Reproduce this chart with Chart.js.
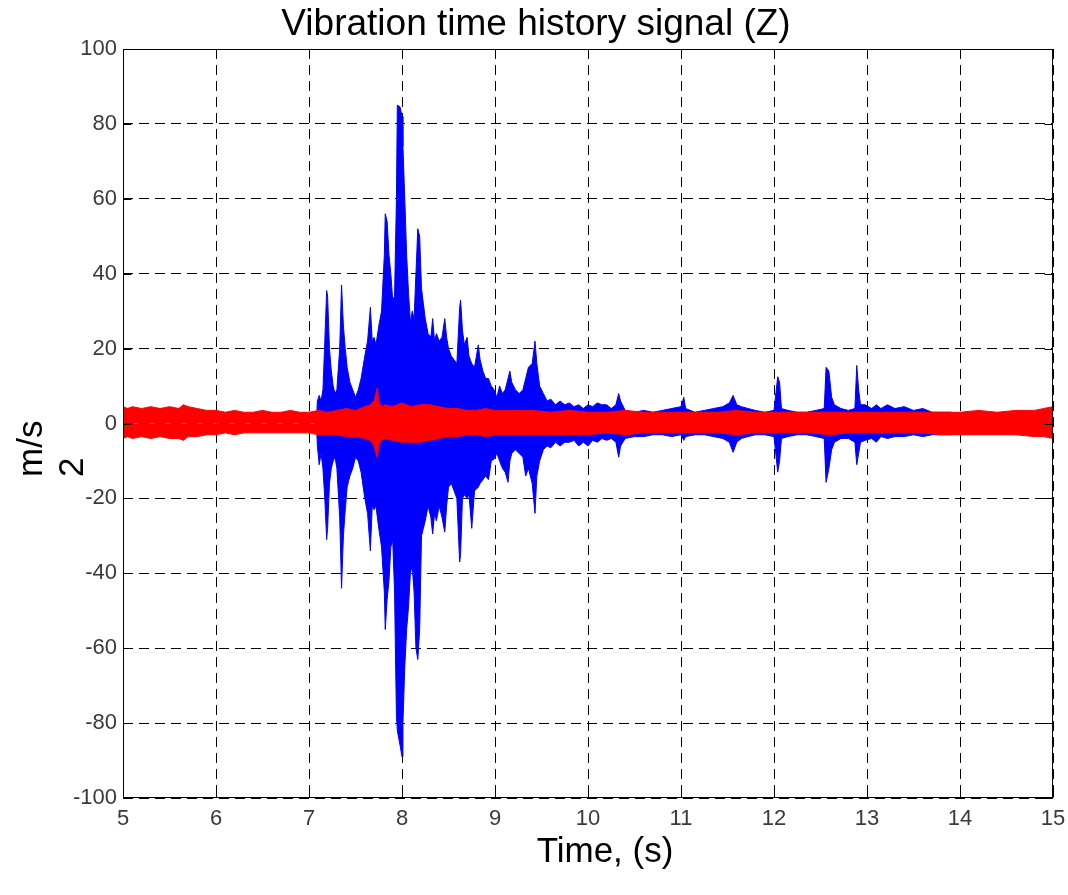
<!DOCTYPE html>
<html>
<head>
<meta charset="utf-8">
<title>Vibration time history signal (Z)</title>
<script src="https://cdn.jsdelivr.net/npm/chart.js@4.4.0/dist/chart.umd.min.js"></script>
<style>
  html, body { margin: 0; padding: 0; background: #fff; }
  canvas { display: block; }
</style>
</head>
<body>
<canvas id="vib-chart" width="1068" height="895"></canvas>
<script>
// axis ticks
const xTicks = [5, 6, 7, 8, 9, 10, 11, 12, 13, 14, 15];
const yTicks = [-100, -80, -60, -40, -20, 0, 20, 40, 60, 80, 100];

const blueTime = [
  7.08, 7.09, 7.11, 7.13, 7.15, 7.17, 7.19, 7.20, 7.22, 7.24,
  7.26, 7.28, 7.30, 7.33, 7.35, 7.37, 7.39, 7.41, 7.44, 7.47,
  7.50, 7.53, 7.56, 7.60, 7.63, 7.66, 7.68, 7.70, 7.72, 7.75,
  7.78, 7.81, 7.82, 7.84, 7.86, 7.88, 7.90, 7.92, 7.94, 7.95,
  7.98, 8.00, 8.01, 8.03, 8.05, 8.07, 8.09, 8.11, 8.13, 8.15,
  8.17, 8.19, 8.21, 8.23, 8.25, 8.28, 8.31, 8.33, 8.35, 8.37,
  8.40, 8.43, 8.46, 8.48, 8.50, 8.53, 8.56, 8.59, 8.62, 8.63,
  8.65, 8.67, 8.70, 8.72, 8.75, 8.78, 8.82, 8.84, 8.87, 8.90,
  8.93, 8.96, 8.99, 9.02, 9.05, 9.08, 9.11, 9.14, 9.16, 9.18,
  9.22, 9.26, 9.30, 9.33, 9.36, 9.40, 9.43, 9.45, 9.48, 9.52,
  9.56, 9.60, 9.65, 9.70, 9.75, 9.80, 9.85, 9.90, 9.95, 10.00,
  10.05, 10.10, 10.15, 10.20, 10.25, 10.30, 10.33, 10.35, 10.40, 10.50,
  10.60, 10.70, 10.80, 10.90, 11.00, 11.03, 11.05, 11.15, 11.25, 11.35,
  11.45, 11.52, 11.56, 11.60, 11.65, 11.72, 11.80, 11.90, 12.00, 12.04,
  12.06, 12.08, 12.15, 12.25, 12.35, 12.45, 12.54, 12.56, 12.59, 12.62,
  12.65, 12.72, 12.80, 12.87, 12.89, 12.91, 12.93, 12.98, 13.05, 13.10,
  13.15, 13.22, 13.30, 13.40, 13.50, 13.60, 13.70, 13.80, 13.90, 14.00,
  15.00
];
const blueUpper = [
  0, 6, 7.5, 6, 9, 22, 35.5, 34, 20, 14,
  10, 8, 9, 20, 37, 26, 20, 15, 11, 9,
  7, 9, 12, 18, 22, 31, 22, 23, 21, 26,
  30, 45, 56, 54, 45, 40, 33, 34, 60, 85,
  84.5, 82, 74, 60, 45, 35, 27, 30, 28, 40,
  52, 50, 36, 32, 28, 24, 23, 28, 22, 24,
  22, 23, 28, 23, 20, 18, 17, 16, 31, 33,
  25, 21, 23, 18, 16, 15, 21, 17, 14, 12,
  12, 10, 9, 7, 10, 8, 9, 12, 14, 11,
  9, 8, 9, 12, 15, 16, 22, 16, 10, 8,
  6, 6.5, 5, 6, 5, 5.5, 4.5, 5, 4, 5,
  4.5, 5.5, 5, 5, 4, 5, 8, 6, 3.5, 3,
  3.5, 3, 3.5, 4, 4.5, 7, 4, 3, 3.5, 4,
  4.5, 5.5, 7.5, 5, 4.5, 4, 3.5, 3, 3.5, 12.5,
  11, 4, 3.5, 3, 3, 3.5, 4, 15, 14, 7,
  5, 4, 3.5, 4, 15.5, 9, 5, 5, 4, 5,
  4, 5, 4, 4.5, 3.5, 4, 3, 3, 3, 2.5,
  2.5
];
const blueLower = [
  0, -6, -11, -8, -12, -20, -31, -28, -16, -12,
  -10, -9, -12, -25, -44, -30, -23, -17, -14, -12,
  -9, -10, -13, -20, -24, -34, -22, -23, -22, -28,
  -33, -45, -55, -47, -42, -33, -31, -45, -78, -82,
  -86, -89, -80, -65, -55, -49, -40, -38, -45, -60,
  -63, -55, -30, -28, -26, -22, -25, -29.5, -24, -26,
  -22, -25, -29, -22, -17, -16, -18, -20, -37, -35,
  -20, -19, -20, -19, -28, -18, -17, -16, -15, -14,
  -15, -10, -9.5, -8, -10, -12, -13, -15.7, -10, -8,
  -7, -8, -9, -14, -12, -16, -24, -14, -10, -7,
  -6, -6.5, -5, -6, -5, -5, -4.5, -6, -5, -6,
  -4.5, -5, -4, -4.5, -4, -5, -9, -6, -4, -3.5,
  -3.5, -3, -3, -3.5, -3, -4.5, -3.5, -3, -3, -3.5,
  -4, -5, -7.7, -5, -4, -3.5, -3, -3, -3.5, -13,
  -10, -4, -3.5, -3, -3, -3.5, -4, -15.7, -12, -7,
  -5, -4, -4, -5, -11, -8, -5, -4.5, -4, -5,
  -3.5, -4, -3.5, -3.5, -3, -3.5, -3, -3, -3, -2.5,
  -2.5
];

// red trace envelope
const redTime = [
  5.00, 5.05, 5.10, 5.20, 5.30, 5.40, 5.50, 5.60, 5.65, 5.70,
  5.80, 5.90, 6.00, 6.10, 6.20, 6.30, 6.40, 6.50, 6.60, 6.70,
  6.80, 6.90, 7.00, 7.10, 7.20, 7.30, 7.40, 7.50, 7.60, 7.66,
  7.70, 7.72, 7.735, 7.75, 7.78, 7.82, 7.90, 8.00, 8.10, 8.20,
  8.30, 8.40, 8.50, 8.60, 8.70, 8.80, 8.90, 9.00, 9.20, 9.40,
  9.60, 9.80, 10.00, 10.20, 10.40, 10.60, 10.80, 11.00, 11.20, 11.40,
  11.60, 11.80, 12.00, 12.20, 12.40, 12.60, 12.80, 13.00, 13.20, 13.40,
  13.60, 13.80, 14.00, 14.20, 14.40, 14.60, 14.80, 14.90, 15.00
];
const redUpper = [
  4.5, 4, 4.5, 4, 4.5, 4, 4.5, 4, 5, 4.5,
  4, 3.5, 3.5, 3, 3.5, 3, 3, 3.5, 3, 3,
  3.5, 3, 3, 3.5, 3, 3.5, 4, 3.5, 4.5, 5,
  6, 8, 9.5, 6, 4.5, 5, 4.5, 5.5, 4.5, 5,
  5, 4.5, 4, 4, 3.5, 3.5, 4, 3.5, 3.5, 3.5,
  3, 3.5, 3, 3, 3.5, 3, 3, 3, 3, 3,
  3.5, 3, 3, 3, 3, 3, 3, 3, 3, 3,
  3, 3, 3, 3.5, 3, 3.5, 3.5, 4, 4.5
];
const redLower = [
  -4, -3.5, -4, -3.5, -4, -3.5, -4, -4, -4.5, -3.5,
  -3.5, -3, -3, -2.5, -3, -2.5, -2.5, -2.5, -2.5, -2.5,
  -2.5, -2.5, -2.5, -3, -3, -3, -3.5, -3.5, -4, -4.5,
  -6, -8, -9, -6, -4.5, -4, -4.5, -5, -5, -5,
  -4.5, -4, -3.5, -3.5, -3, -3, -3.5, -3, -3, -3,
  -3, -3, -3, -2.5, -3, -2.5, -2.5, -2.5, -2.5, -2.5,
  -3, -2.5, -2.5, -2.5, -2.5, -3, -2.5, -2.5, -2.5, -2.5,
  -2.5, -3, -3, -3, -3, -3, -3.5, -3.5, -4
];

const FONT = '"Liberation Sans", Arial, sans-serif';

const toPoints = (times, values) => times.map((t, i) => ({ x: t, y: values[i] }));

const trace = (label, times, values, colour, order) => ({
    label,
    data: toPoints(times, values),
    borderColor: colour,
    backgroundColor: colour,
    borderWidth: 1,
    pointRadius: 0,
    tension: 0,
    fill: 'origin',
    order
});

// box round the plot, inward ticks, title and axis labels
const frameAndLabels = {
    id: 'frameAndLabels',
    afterDraw(chart) {
        const { ctx, chartArea: a, scales: { x, y } } = chart;
        const left = Math.round(a.left) + 0.5;
        const right = Math.round(a.right) - 0.5;
        const top = Math.round(a.top) + 0.5;
        const bottom = Math.round(a.bottom) - 0.5;
        ctx.save();
        ctx.strokeStyle = '#000';
        ctx.lineWidth = 1;
        ctx.setLineDash([]);
        ctx.strokeRect(left, top, right - left, bottom - top);

        ctx.beginPath();
        xTicks.forEach(v => {
            const px = Math.round(x.getPixelForValue(v)) + 0.5;
            ctx.moveTo(px, bottom); ctx.lineTo(px, bottom - 8);
            ctx.moveTo(px, top); ctx.lineTo(px, top + 8);
        });
        yTicks.forEach(v => {
            const py = Math.round(y.getPixelForValue(v)) + 0.5;
            ctx.moveTo(left, py); ctx.lineTo(left + 8, py);
            ctx.moveTo(right, py); ctx.lineTo(right - 8, py);
        });
        ctx.stroke();

        ctx.fillStyle = '#000';
        ctx.textAlign = 'center';
        ctx.textBaseline = 'middle';
        ctx.font = '37px ' + FONT;
        ctx.fillText('Vibration time history signal (Z)', 536, 25);
        ctx.font = '35px ' + FONT;
        ctx.fillText('Time, (s)', 605, 852);

        ctx.textAlign = 'left';
        ctx.textBaseline = 'alphabetic';
        [['m/s', 42], ['2', 83]].forEach(([txt, bx]) => {
            ctx.save();
            ctx.translate(bx, 477);
            ctx.rotate(-Math.PI / 2);
            ctx.fillText(txt, 0, 0);
            ctx.restore();
        });
        ctx.restore();
    }
};

const ctx = document.getElementById('vib-chart').getContext('2d');

new Chart(ctx, {
    type: 'line',
    data: {
        datasets: [
            trace('Z upper', blueTime, blueUpper, '#0000ff', 2),
            trace('Z lower', blueTime, blueLower, '#0000ff', 2),
            trace('ref upper', redTime, redUpper, '#ff0000', 1),
            trace('ref lower', redTime, redLower, '#ff0000', 1)
        ]
    },
    options: {
        responsive: false,
        devicePixelRatio: 1,
        animation: false,
        layout: { padding: { top: 49, right: 15, bottom: 0, left: 0 } },
        plugins: {
            legend: { display: false },
            tooltip: { enabled: false },
            title: { display: false }
        },
        scales: {
            x: {
                type: 'linear',
                min: 5,
                max: 15,
                afterFit: scale => {
                    scale.height = 97;
                    scale.paddingLeft = 0;
                    scale.paddingRight = 0;
                },
                afterBuildTicks: scale => { scale.ticks = xTicks.map(v => ({ value: v })); },
                grid: { color: '#000', lineWidth: 1, drawTicks: false },
                border: { display: false, dash: [10, 6] },
                ticks: {
                    color: '#3a3a3a',
                    padding: 8,
                    maxRotation: 0,
                    font: { family: FONT, size: 22 }
                }
            },
            y: {
                type: 'linear',
                min: -100,
                max: 100,
                afterFit: scale => {
                    scale.width = 123;
                    scale.paddingTop = 0;
                    scale.paddingBottom = 0;
                },
                afterBuildTicks: scale => { scale.ticks = yTicks.map(v => ({ value: v })); },
                grid: { color: '#000', lineWidth: 1, drawTicks: false },
                border: { display: false, dash: [10, 6] },
                ticks: {
                    color: '#3a3a3a',
                    padding: 6,
                    font: { family: FONT, size: 22 }
                }
            }
        }
    },
    plugins: [frameAndLabels]
});
</script>
</body>
</html>
